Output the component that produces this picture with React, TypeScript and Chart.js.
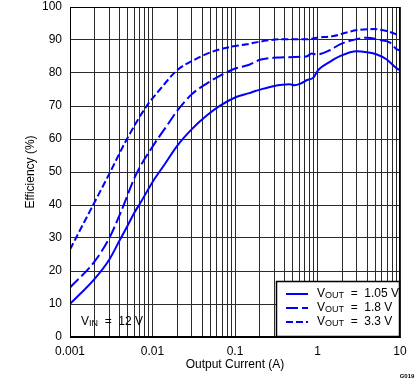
import React, { useEffect, useRef } from "react";
import { Chart, registerables } from "chart.js";

Chart.register(...registerables);

const xTickLabels = ["0.001", "0.01", "0.1", "1", "10"];
const yTickStep = 10;

const current105 = [0.001, 0.002, 0.003, 0.004, 0.005, 0.006, 0.007, 0.0102, 0.0142, 0.02, 0.03, 0.0454, 0.066, 0.105, 0.149, 0.18, 0.29, 0.46, 0.53, 0.62, 0.74, 0.89, 1.02, 1.41, 1.87, 2.98, 3.95, 5.25, 6.9, 9.1, 10];
const eff105 = [10, 17.7, 23.5, 29.3, 33.8, 37.6, 40.3, 47.3, 52.5, 58, 63, 67.1, 70.1, 72.8, 73.9, 74.6, 76, 76.6, 76.3, 76.8, 77.8, 78.6, 80.9, 83.4, 85.1, 86.6, 86.3, 85.6, 84.1, 81.4, 80.8];

const current18 = [0.001, 0.002, 0.003, 0.004, 0.0064, 0.0102, 0.0149, 0.02, 0.03, 0.0454, 0.066, 0.105, 0.149, 0.2, 0.29, 0.35, 0.62, 0.75, 0.85, 0.98, 1.41, 1.87, 2.7, 3.96, 5.75, 7.6, 8.9, 10];
const eff18 = [15, 23, 30, 37, 49.5, 58, 64, 68.6, 73.6, 76.8, 79.2, 81.5, 82.5, 84, 84.6, 84.7, 84.9, 85.1, 85.9, 85.6, 86.9, 88.7, 90, 90.7, 90, 89.2, 87.4, 86.8];

const current33 = [0.001, 0.0015, 0.002, 0.003, 0.0049, 0.0085, 0.0123, 0.02, 0.03, 0.05, 0.087, 0.139, 0.2, 0.35, 0.74, 0.98, 1.56, 2.26, 3.0, 4.7, 6.9, 8.9, 10];
const eff33 = [26.5, 35, 41, 49.5, 60, 70, 75, 80.9, 83.6, 86.2, 87.9, 88.7, 89.5, 90.2, 90.2, 90.7, 91.2, 92.3, 93, 93.3, 92.7, 91.8, 91.2];

const seriesLabels = ["1.05 V", "1.8 V", "3.3 V"];
const FONT = "'Liberation Sans', Arial, sans-serif";
const BLUE = "#0000ff";
const dashes = [[], [12, 4], [7, 3]];

function pts(xs: number[], ys: number[]) {
  return xs.map((x, i) => ({ x, y: ys[i] }));
}

const overlay = {
  id: "overlay",
  afterDraw(chart: any) {
    const { ctx, chartArea: a } = chart;
    ctx.save();
    ctx.strokeStyle = "#000";
    ctx.lineWidth = 1;
    ctx.strokeRect(a.left + 0.5, a.top + 0.5, a.right - a.left - 1, a.bottom - a.top - 1);

    const lx = 276, ly = 281;
    ctx.fillStyle = "#fff";
    ctx.fillRect(lx, ly, a.right - lx, a.bottom - ly);
    ctx.strokeStyle = "#000";
    ctx.lineWidth = 1.5;
    ctx.strokeRect(lx + 0.5, ly + 0.5, a.right - lx - 1, a.bottom - ly - 1);

    ctx.fillStyle = "#000";
    ctx.textBaseline = "middle";
    const drawSub = (x: number, y: number, main: string, sub: string, rest: string) => {
      ctx.font = `12px ${FONT}`;
      ctx.textAlign = "left";
      ctx.fillText(main, x, y);
      let w = ctx.measureText(main).width;
      ctx.font = `9px ${FONT}`;
      ctx.fillText(sub, x + w, y + 2);
      w += ctx.measureText(sub).width;
      ctx.font = `12px ${FONT}`;
      ctx.fillText(rest, x + w, y);
    };

    seriesLabels.forEach((lab, i) => {
      const y = 294 + i * 14;
      ctx.strokeStyle = BLUE;
      ctx.lineWidth = 2;
      ctx.setLineDash(dashes[i]);
      ctx.beginPath();
      ctx.moveTo(286, y);
      ctx.lineTo(308, y);
      ctx.stroke();
      ctx.setLineDash([]);
      ctx.fillStyle = "#000";
      drawSub(317, y, "V", "OUT", "  =  " + lab);
    });

    drawSub(81, 322, "V", "IN", "  =  12 V");

    ctx.font = `12px ${FONT}`;
    ctx.textAlign = "center";
    ctx.fillText("Output Current (A)", (a.left + a.right) / 2, 365);
    ctx.save();
    ctx.translate(31, (a.top + a.bottom) / 2);
    ctx.rotate(-Math.PI / 2);
    ctx.fillText("Efficiency (%)", 0, 0);
    ctx.restore();

    ctx.font = `bold 6px ${FONT}`;
    ctx.textAlign = "center";
    ctx.fillText("G019", 407, 376);
    ctx.restore();
  },
};

export default function App() {
  const ref = useRef<HTMLCanvasElement | null>(null);
  useEffect(() => {
    if (!ref.current) return;
    const chart = new Chart(ref.current, {
      type: "line",
      data: {
        datasets: [
          { label: seriesLabels[0], data: pts(current105, eff105), borderColor: BLUE, borderWidth: 2, pointRadius: 0, cubicInterpolationMode: "monotone", borderDash: dashes[0] },
          { label: seriesLabels[1], data: pts(current18, eff18), borderColor: BLUE, borderWidth: 2, pointRadius: 0, cubicInterpolationMode: "monotone", borderDash: dashes[1] },
          { label: seriesLabels[2], data: pts(current33, eff33), borderColor: BLUE, borderWidth: 2, pointRadius: 0, cubicInterpolationMode: "monotone", borderDash: dashes[2] },
        ],
      },
      options: {
        responsive: false,
        animation: false,
        events: [],
        layout: { padding: { left: 0, right: 19, top: 7, bottom: 0 } },
        plugins: { legend: { display: false }, tooltip: { enabled: false } },
        scales: {
          x: {
            type: "logarithmic",
            min: 0.001,
            max: 10,
            afterBuildTicks: (scale: any) => {
              const t: any[] = [];
              for (let e = -3; e <= 0; e++) for (let m = 1; m <= 9; m++) t.push({ value: m * Math.pow(10, e) });
              t.push({ value: 10 });
              scale.ticks = t;
            },
            afterFit: (scale: any) => { scale.height = 45; },
            grid: { color: "#2a2a2a", lineWidth: 1, drawTicks: false },
            border: { display: true, color: "#000", width: 1 },
            ticks: {
              autoSkip: false,
              maxRotation: 0,
              padding: 7,
              color: "#000",
              font: { family: FONT, size: 12 },
              callback: (v: any) => {
                const f = xTickLabels.find((l) => Math.abs(Number(l) - v) / v < 1e-6);
                return f ?? "";
              },
            },
          },
          y: {
            min: 0,
            max: 100,
            afterFit: (scale: any) => {
              scale.width = 70;
              scale.paddingTop = 0;
              scale.paddingBottom = 0;
            },
            grid: { color: "#2a2a2a", lineWidth: 1, drawTicks: false },
            border: { display: true, color: "#000", width: 1 },
            ticks: { stepSize: yTickStep, padding: 8, color: "#000", font: { family: FONT, size: 12 } },
          },
        },
      },
      plugins: [overlay],
    } as any);
    return () => chart.destroy();
  }, []);
  return (
    <div style={{ position: "fixed", left: 0, top: 0, width: 419, height: 382, background: "#fff" }}>
      <canvas ref={ref} width={419} height={382} style={{ display: "block" }} />
    </div>
  );
}
